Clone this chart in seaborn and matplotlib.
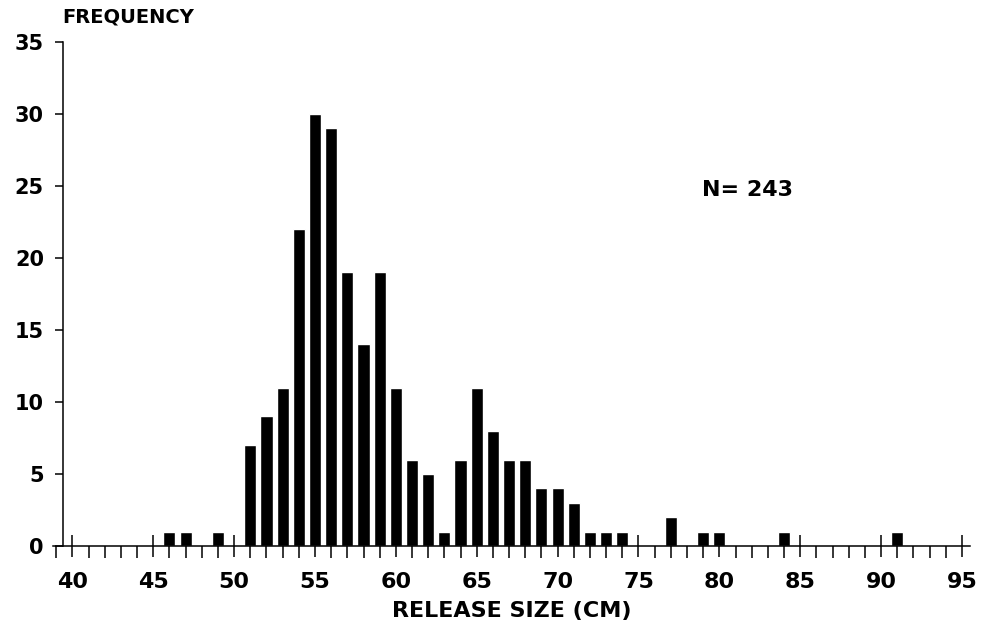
import matplotlib
matplotlib.use("Agg")
import matplotlib.pyplot as plt
import seaborn as sns
import pandas as pd
from matplotlib.ticker import MultipleLocator


# -----------------------------
# DATA
# -----------------------------
sizes = [46, 47, 49, 51, 52, 53, 54, 55, 56, 57, 58, 59, 60, 61, 62, 63,
         64, 65, 66, 67, 68, 69, 70, 71, 72, 73, 74, 77, 79, 80, 84, 91]
counts = [1, 1, 1, 7, 9, 11, 22, 30, 29, 19, 14, 19, 11, 6, 5, 1,
          6, 11, 8, 6, 6, 4, 4, 3, 1, 1, 1, 2, 1, 1, 1, 1]
x_ticks = [40, 45, 50, 55, 60, 65, 70, 75, 80, 85, 90, 95]
y_ticks = [0, 5, 10, 15, 20, 25, 30, 35]
n_total = sum(counts)


# -----------------------------
# CONFIG
# -----------------------------
sns.set_style("ticks")
plt.rcParams["font.family"] = ["DejaVu Sans"]
plt.rcParams["font.weight"] = "bold"
for key in ("text.color", "axes.labelcolor", "xtick.color", "ytick.color",
            "axes.edgecolor"):
    plt.rcParams[key] = "black"


def main() -> None:
    df = pd.DataFrame({"size": sizes, "count": counts})

    fig = plt.figure(figsize=(9.83, 6.31), dpi=100)
    ax = fig.add_axes([0.0539, 0.1347, 0.9329, 0.7987])

    sns.barplot(
        data=df,
        x="size",
        y="count",
        native_scale=True,
        color="black",
        width=0.75,
        saturation=1,
        ax=ax,
    )

    ax.set_xlim(38.8, 95.5)
    ax.set_ylim(0, 35)

    sns.despine(ax=ax)
    ax.spines["left"].set_position(("data", 39.44))
    for side in ("left", "bottom"):
        ax.spines[side].set_linewidth(1.1)
        ax.spines[side].set_color("black")

    ax.set_xticks(x_ticks)
    ax.set_xticklabels([str(t) for t in x_ticks])
    ax.xaxis.set_minor_locator(MultipleLocator(1))
    ax.set_yticks(y_ticks)
    ax.set_yticklabels([str(t) for t in y_ticks])

    ax.tick_params(axis="x", which="major", direction="inout", length=16,
                   width=1.1, color="black", labelcolor="black",
                   labelsize=16, pad=11)
    ax.tick_params(axis="x", which="minor", direction="out", length=8.5,
                   width=1.1, color="black")
    ax.tick_params(axis="y", which="major", direction="out", length=6,
                   width=1.1, color="black", labelcolor="black",
                   labelsize=15, pad=8)

    ax.set_xlabel("RELEASE SIZE (CM)", fontsize=16, fontweight="bold",
                  color="black", labelpad=6)
    ax.set_ylabel("")

    fig.text(0.063, 0.973, "FREQUENCY", fontsize=14, fontweight="bold",
             color="black", ha="left", va="center")
    ax.text(78.9, 24.7, f"N= {n_total}", fontsize=16, fontweight="bold",
            color="black", ha="left", va="center")

    fig.savefig("out.png", dpi=100)
    plt.close(fig)


if __name__ == "__main__":
    main()
